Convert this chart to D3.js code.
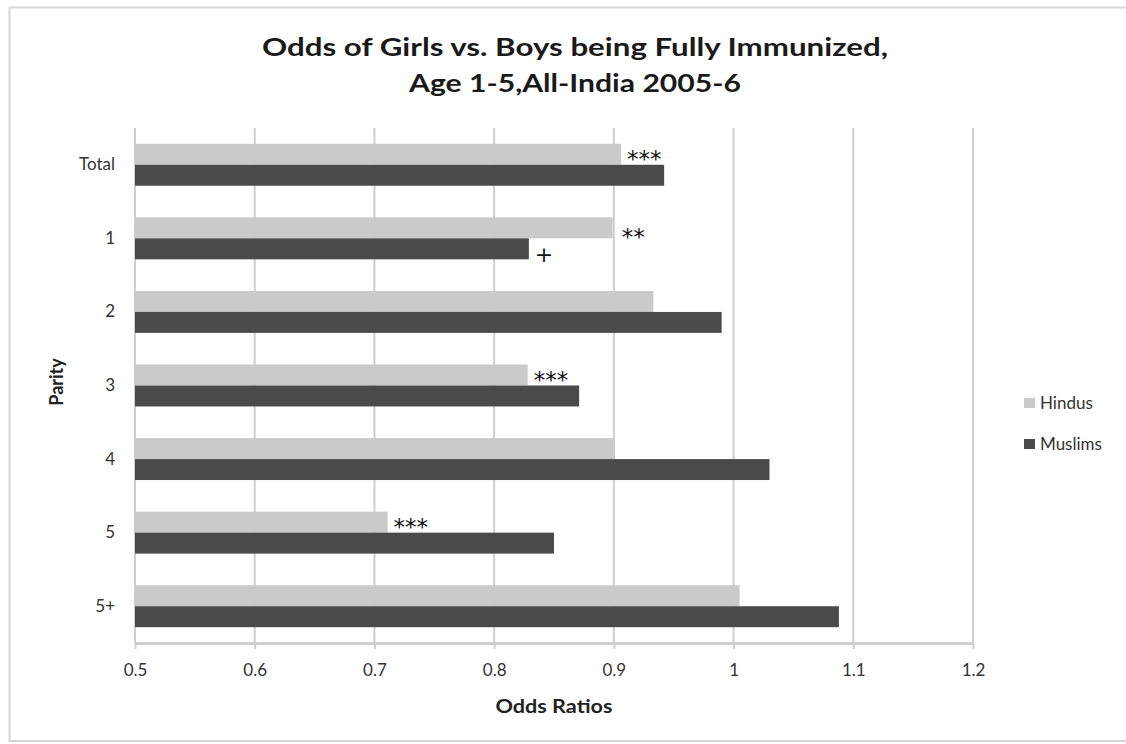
<!DOCTYPE html>
<html>
<head>
<meta charset="utf-8">
<script src="https://cdn.jsdelivr.net/npm/d3@7"></script>
<style>
  html, body { margin: 0; padding: 0; background: #fff; }
  svg { display: block; }
</style>
</head>
<body>
<svg id="chart" width="1126" height="744"></svg>
<script>
// ---- data ----
const categories = ["Total", "1", "2", "3", "4", "5", "5+"];
const seriesNames = ["Hindus", "Muslims"];
const hindus  = [0.906, 0.899, 0.933, 0.828, 0.901, 0.711, 1.005];
const muslims = [0.942, 0.829, 0.990, 0.871, 1.030, 0.850, 1.088];
const xTicks = [0.5, 0.6, 0.7, 0.8, 0.9, 1.0, 1.1, 1.2];
const xTickLabels = ["0.5", "0.6", "0.7", "0.8", "0.9", "1", "1.1", "1.2"];
const annotations = [
  { category: "Total", series: "Hindus",  label: "***" },
  { category: "1",     series: "Hindus",  label: "**" },
  { category: "1",     series: "Muslims", label: "+" },
  { category: "3",     series: "Hindus",  label: "***" },
  { category: "5",     series: "Hindus",  label: "***" }
];
const titleLines = ["Odds of Girls vs. Boys being Fully Immunized,", "Age 1-5,All-India 2005-6"];
const xTitle = "Odds Ratios";
const yTitle = "Parity";

// ---- layout ----
const W = 1126, H = 744;
const plot = { left: 135, right: 973, top: 128, bottom: 643 };
const colors = { Hindus: "#cacaca", Muslims: "#4a4a4a" };
const grid = "#cfcfcf";
const font = "Lato, 'Open Sans', sans-serif";

const svg = d3.select("#chart");

// outer frame
svg.append("rect")
  .attr("x", 9.5).attr("y", 7.5).attr("width", W + 20).attr("height", 733.5)
  .attr("fill", "#fff").attr("stroke", "#d6d6d6").attr("stroke-width", 2);

const x = d3.scaleLinear().domain([0.5, 1.2]).range([plot.left, plot.right]);
const y = d3.scaleBand().domain(categories).range([plot.top, plot.bottom])
  .paddingInner(0.43).paddingOuter(0.215);
const ySub = d3.scaleBand().domain(seriesNames).range([0, y.bandwidth()]).padding(0);

// gridlines
svg.append("g").selectAll("line")
  .data(xTicks.slice(1))
  .join("line")
  .attr("x1", d => x(d)).attr("x2", d => x(d))
  .attr("y1", plot.top).attr("y2", plot.bottom)
  .attr("stroke", grid).attr("stroke-width", 2);

// left axis line
svg.append("line")
  .attr("x1", plot.left).attr("x2", plot.left)
  .attr("y1", plot.top).attr("y2", plot.bottom)
  .attr("stroke", grid).attr("stroke-width", 2);

// bars
const rows = categories.map((c, i) => ({ category: c, Hindus: hindus[i], Muslims: muslims[i] }));
const groups = svg.append("g").selectAll("g")
  .data(rows).join("g")
  .attr("transform", d => `translate(0,${y(d.category)})`);

groups.selectAll("rect")
  .data(d => seriesNames.map(s => ({ series: s, value: d[s] })))
  .join("rect")
  .attr("x", x(0.5))
  .attr("y", d => ySub(d.series))
  .attr("width", d => x(d.value) - x(0.5))
  .attr("height", ySub.bandwidth())
  .attr("fill", d => colors[d.series]);

// x axis
const xAxis = d3.axisBottom(x)
  .tickValues(xTicks)
  .tickFormat((d, i) => xTickLabels[i])
  .tickSize(6).tickSizeOuter(0).tickPadding(15);
const gx = svg.append("g").attr("transform", `translate(0,${plot.bottom})`).call(xAxis);
gx.select(".domain").attr("stroke", grid).attr("stroke-width", 3);
gx.selectAll(".tick line").attr("stroke", grid).attr("stroke-width", 2);
gx.selectAll(".tick text").attr("font-family", font).attr("font-size", 17).attr("fill", "#333");

// y axis labels
const yAxis = d3.axisLeft(y).tickSize(0).tickPadding(20);
const gy = svg.append("g").attr("transform", `translate(${plot.left},0)`).call(yAxis);
gy.select(".domain").remove();
gy.selectAll(".tick text").attr("font-family", font).attr("font-size", 17).attr("fill", "#333");

// significance annotations
svg.append("g").selectAll("text")
  .data(annotations).join("text")
  .attr("x", d => x(d.series === "Hindus" ? hindus[categories.indexOf(d.category)] : muslims[categories.indexOf(d.category)]) + (d.label === "**" ? 9 : 6))
  .attr("y", d => y(d.category) + ySub(d.series) + ySub.bandwidth() / 2 + (d.label === "+" ? 13 : (d.label === "**" ? 17 : 13)))
  .attr("font-family", "'DejaVu Sans', sans-serif")
  .attr("font-size", d => d.label === "+" ? 22 : 23)
  .attr("fill", "#111")
  .text(d => d.label);

// title
svg.append("g").selectAll("text")
  .data(titleLines).join("text")
  .attr("x", 575)
  .attr("y", (d, i) => 56 + i * 36)
  .attr("text-anchor", "middle")
  .attr("font-family", font)
  .attr("font-weight", "bold")
  .attr("font-size", 25)
  .attr("fill", "#1a1a1a")
  .attr("textLength", (d, i) => i === 0 ? 626 : 332)
  .attr("lengthAdjust", "spacingAndGlyphs")
  .text(d => d);

// axis titles
svg.append("text")
  .attr("x", (plot.left + plot.right) / 2).attr("y", 713)
  .attr("text-anchor", "middle")
  .attr("font-family", font).attr("font-weight", "bold").attr("font-size", 18)
  .attr("fill", "#222")
  .attr("textLength", 117).attr("lengthAdjust", "spacingAndGlyphs")
  .text(xTitle);

svg.append("text")
  .attr("transform", "translate(63,382) rotate(-90)")
  .attr("text-anchor", "middle")
  .attr("font-family", font).attr("font-weight", "bold").attr("font-size", 18)
  .attr("fill", "#222")
  .text(yTitle);

// legend
const legend = svg.append("g").selectAll("g")
  .data(seriesNames).join("g")
  .attr("transform", (d, i) => `translate(1024,${398 + i * 41})`);
legend.append("rect").attr("width", 11).attr("height", 10).attr("fill", d => colors[d]);
legend.append("text").attr("x", 16).attr("y", 11)
  .attr("font-family", font).attr("font-size", 17).attr("fill", "#333")
  .text(d => d);
</script>
</body>
</html>
